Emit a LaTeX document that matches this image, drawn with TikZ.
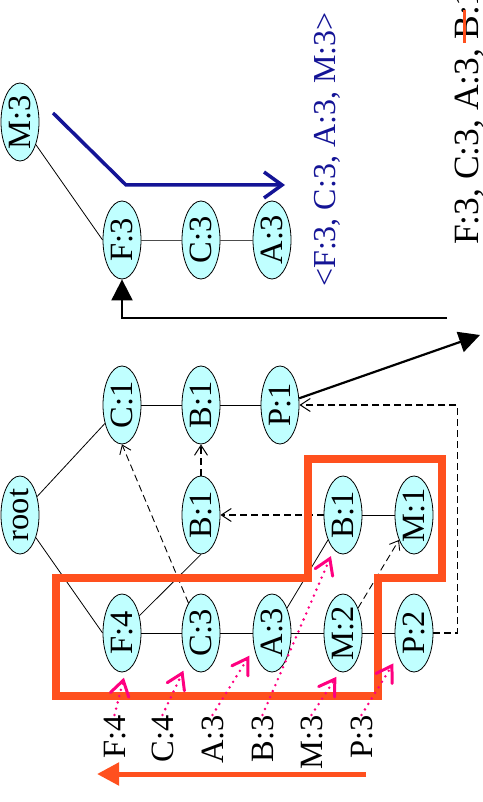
\documentclass[tikz,border=0pt]{standalone}
\usepackage{fontspec}
\usepackage{graphicx}
\setmainfont{Liberation Serif}
\usetikzlibrary{shapes.geometric,arrows.meta,calc}

\definecolor{nodefill}{RGB}{192,255,255}
\definecolor{hilite}{RGB}{255,80,30}
\definecolor{linkpink}{RGB}{255,0,128}
\definecolor{pathblue}{RGB}{20,20,150}

\newcommand\vtext[1]{\rotatebox{90}{#1}}

\begin{document}
\begin{tikzpicture}[x=1pt,y=-1pt,
  treenode/.style={ellipse,draw,fill=nodefill,line width=0.8pt,
    minimum width=38pt,minimum height=78pt,inner sep=0pt,
    font=\fontsize{32.5}{38}\selectfont},
  treeedge/.style={line width=0.8pt},
  condedge/.style={line width=0.9pt,draw=black!70},
  thinlink/.style={line width=0.9pt,dash pattern=on 7pt off 4pt,
    -{Straight Barb[length=8pt,width=12pt,line width=0.9pt]}},
  boldlink/.style={line width=1.6pt,dash pattern=on 7pt off 4pt,
    -{Straight Barb[length=10pt,width=13pt,line width=1pt]}},
  pinklink/.style={draw=linkpink,line width=2.8pt,line cap=round,
    dash pattern=on 0pt off 6.5pt,
    -{Straight Barb[length=15pt,width=19pt,line width=3pt,line cap=round]}},
  itemlabel/.style={rotate=90,anchor=base east,inner sep=0pt,
    font=\fontsize{32.5}{38}\selectfont},
  bigarrow/.style={line width=2.2pt,-{Triangle[length=21pt,width=21pt]}},
]
\useasboundingbox (0,0) rectangle (482,802);

% ---------- FP-tree ----------
\node[treenode] (root) at (20,515) {\vtext{root}};
\node[treenode] (F4)   at (122,633) {\vtext{F:4}};
\node[treenode] (C3)   at (201,633) {\vtext{C:3}};
\node[treenode] (A3)   at (272,633) {\vtext{A:3}};
\node[treenode] (M2)   at (343,633) {\vtext{M:2}};
\node[treenode] (P2)   at (414,633) {\vtext{P:2}};
\node[treenode] (B1m)  at (201,515) {\vtext{B:1}};
\node[treenode] (B1r)  at (343,515) {\vtext{B:1}};
\node[treenode] (M1)   at (414,515) {\vtext{M:1}};
\node[treenode] (C1)   at (122,405) {\vtext{C:1}};
\node[treenode] (B1t)  at (201,405) {\vtext{B:1}};
\node[treenode] (P1)   at (280,405) {\vtext{P:1}};

\draw[treeedge] (root) -- (F4.west);
\draw[treeedge] (root) -- (C1);
\draw[treeedge] (F4) -- (C3) -- (A3) -- (M2) -- (P2);
\draw[treeedge] (F4) -- (B1m.south);
\draw[treeedge] (A3) -- (B1r);
\draw[treeedge] (B1r) -- (M1);
\draw[treeedge] (C1) -- (B1t) -- (P1);

% node-links
\draw[thinlink] (C3) -- (C1.south);
\draw[boldlink] (B1m) -- (B1t);
\draw[boldlink] (B1r) -- (B1m);
\draw[thinlink] (M2) -- (M1);
\draw[boldlink] (P2.east) -- ++(24,0) |- (P1.east);

% ---------- highlighted prefix paths ----------
\draw[hilite,line width=8pt,line join=miter]
  (56,578) -- (308,578) -- (308,459) -- (442,459) -- (442,578)
  -- (378,578) -- (378,696) -- (56,696) -- cycle;

% ---------- header table ----------
\node[itemlabel] (lF) at (125,715) {F:4};
\node[itemlabel] (lC) at (173,715) {C:4};
\node[itemlabel] (lA) at (223,715) {A:3};
\node[itemlabel] (lB) at (273,715) {B:3};
\node[itemlabel] (lM) at (322,715) {M:3};
\node[itemlabel] (lP) at (372,715) {P:3};

\draw[pinklink,shorten >=6pt] (lF.east) -- (F4.275);
\draw[pinklink,shorten >=10pt] (lC.east) -- (C3.245);
\draw[pinklink,shorten >=9pt] (lA.east) -- (A3.220);
\draw[pinklink,shorten >=7pt] (lB.east) -- (B1r.255);
\draw[pinklink,shorten >=6pt] (lM.east) -- (M2.265);
\draw[pinklink,shorten >=9pt] (lP.east) -- (P2.235);

\coordinate (scanStart) at (366,774);
\coordinate (scanEnd) at (97,774);
\draw[hilite,line width=5pt,-{Triangle[length=22pt,width=22pt]}] (scanStart) -- (scanEnd);

% ---------- conditional FP-tree ----------
\node[treenode] (M3) at (20,122) {\vtext{M:3}};
\node[treenode] (F3) at (122,240) {\vtext{F:3}};
\node[treenode] (C3c) at (201,240) {\vtext{C:3}};
\node[treenode] (A3c) at (272,240) {\vtext{A:3}};
\draw[treeedge] (M3) -- (F3.west);
\draw[condedge] (F3) -- (C3c) -- (A3c);

\coordinate (outTip) at (480,335);
\draw[bigarrow] (P1) -- (outTip);
\coordinate (backStart) at (447,318);
\draw[bigarrow,line width=2pt] (backStart) -| (F3.south);

\coordinate (b0) at (53,113);
\coordinate (b1) at (126,185);
\coordinate (b2) at (285,185);
\draw[pathblue,line width=3.5pt,line join=miter,
  -{Straight Barb[length=18pt,width=26pt,line width=3.5pt]}] (b0) -- (b1) -- (b2);

\node[rotate=90,anchor=base west,inner sep=0pt,text=pathblue,
  font=\fontsize{32}{38}\selectfont] (pattern) at (335,287)
  {<F:3, C:3, A:3, M:3>};

\node[rotate=90,anchor=base west,inner sep=0pt,
  font=\fontsize{35.5}{42}\selectfont] (prefix) at (478,245)
  {F:3, C:3, A:3, B:1};
\draw[hilite,line width=3pt] (464,10) -- (464,43);
\end{tikzpicture}
\end{document}
